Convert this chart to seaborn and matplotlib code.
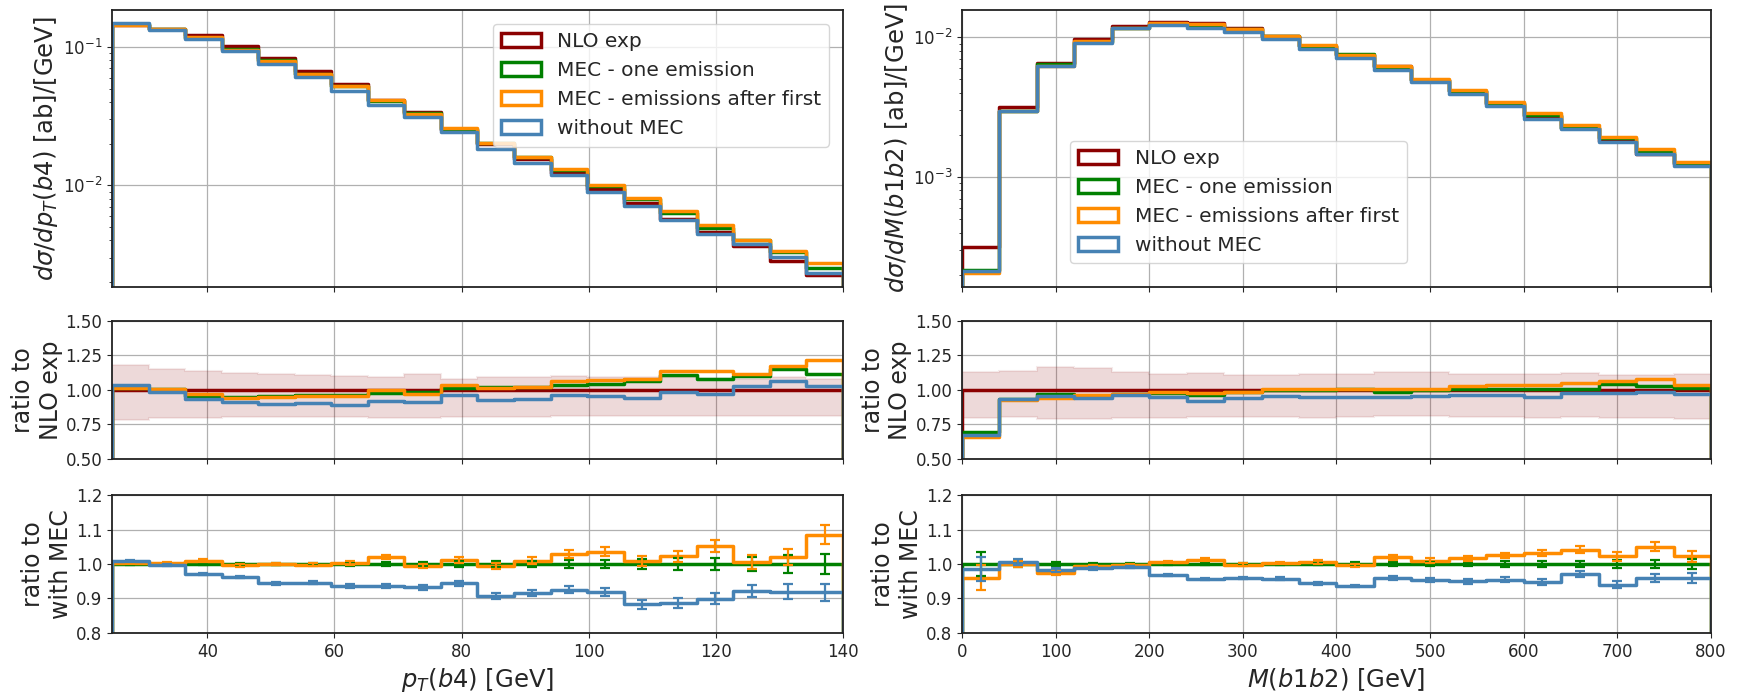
import numpy as np
import matplotlib
matplotlib.use("Agg")
import matplotlib.pyplot as plt
import seaborn as sns
from matplotlib.patches import Patch

# ---------------- data ----------------
pt_edges = np.linspace(25, 140, 21)
m_edges = np.linspace(0, 800, 21)

series_names = ["NLO exp", "MEC - one emission", "MEC - emissions after first", "without MEC"]
series_colors = ["darkred", "green", "darkorange", "steelblue"]

# top-left: d sigma / d pT(b4)
pt_nlo = [0.143, 0.134, 0.1216, 0.1017, 0.0836, 0.0668, 0.0541, 0.0414, 0.0340, 0.0252,
          0.0198, 0.0156, 0.0123, 0.0094, 0.0075, 0.0057, 0.00457, 0.00363, 0.00285, 0.00225]
pt_mec1 = [0.1454, 0.1347, 0.1163, 0.0967, 0.0799, 0.0642, 0.0520, 0.0406, 0.0335, 0.0256,
           0.0203, 0.0159, 0.0128, 0.00981, 0.00797, 0.00634, 0.00495, 0.00400, 0.00328, 0.00252]
pt_mecn = [0.1451, 0.1347, 0.1177, 0.0958, 0.0795, 0.0641, 0.0519, 0.0414, 0.0330, 0.0261,
           0.0201, 0.0160, 0.0131, 0.0101, 0.00809, 0.00648, 0.00520, 0.00405, 0.00334, 0.00273]
pt_nomec = [0.1479, 0.1320, 0.1133, 0.0929, 0.0751, 0.0607, 0.0483, 0.0380, 0.0309, 0.0243,
            0.0184, 0.0146, 0.0118, 0.00897, 0.00708, 0.00561, 0.00444, 0.00374, 0.00303, 0.00232]

# middle-left: ratio to NLO
pt_r_mec1 = [1.017, 1.005, 0.956, 0.951, 0.956, 0.961, 0.961, 0.980, 0.985, 1.015,
             1.024, 1.022, 1.039, 1.044, 1.063, 1.112, 1.083, 1.102, 1.150, 1.119]
pt_r_mecn = [1.015, 1.005, 0.968, 0.942, 0.951, 0.959, 0.959, 1.000, 0.971, 1.034,
             1.017, 1.024, 1.063, 1.075, 1.078, 1.136, 1.138, 1.117, 1.172, 1.214]
pt_r_nomec = [1.034, 0.985, 0.932, 0.913, 0.898, 0.908, 0.893, 0.917, 0.910, 0.966,
              0.927, 0.934, 0.961, 0.954, 0.944, 0.985, 0.971, 1.029, 1.063, 1.029]
pt_band_hi = [1.180, 1.150, 1.136, 1.126, 1.117, 1.107, 1.100, 1.092, 1.117, 1.083,
              1.092, 1.097, 1.100, 1.092, 1.092, 1.092, 1.087, 1.083, 1.092, 1.078]
pt_band_lo = [0.785, 0.795, 0.800, 0.805, 0.805, 0.805, 0.805, 0.800, 0.800, 0.805,
              0.805, 0.805, 0.810, 0.810, 0.810, 0.815, 0.810, 0.810, 0.815, 0.815]

# bottom-left: ratio to with MEC
pt_w_mec1 = [1.0] * 20
pt_w_mecn = [1.004, 1.004, 1.010, 0.996, 1.000, 0.998, 1.003, 1.021, 0.994, 1.012,
             0.994, 1.010, 1.028, 1.035, 1.008, 1.023, 1.052, 1.006, 1.020, 1.085]
pt_w_nomec = [1.010, 0.996, 0.972, 0.961, 0.944, 0.946, 0.936, 0.935, 0.932, 0.944,
              0.907, 0.916, 0.926, 0.918, 0.883, 0.887, 0.899, 0.922, 0.920, 0.918]
pt_e_mec1 = [0.003, 0.003, 0.003, 0.004, 0.004, 0.004, 0.005, 0.006, 0.007, 0.008,
             0.010, 0.010, 0.012, 0.013, 0.014, 0.016, 0.018, 0.020, 0.025, 0.030]
pt_e_mecn = [0.003, 0.003, 0.004, 0.004, 0.004, 0.004, 0.005, 0.006, 0.007, 0.008,
             0.009, 0.010, 0.012, 0.013, 0.014, 0.016, 0.018, 0.020, 0.024, 0.028]
pt_e_nomec = [0.003, 0.003, 0.003, 0.003, 0.004, 0.004, 0.005, 0.006, 0.006, 0.007,
              0.008, 0.009, 0.010, 0.011, 0.013, 0.014, 0.016, 0.018, 0.021, 0.024]

# top-right: d sigma / d M(b1b2)
m_nlo = [3.13e-4, 3.18e-3, 6.56e-3, 9.67e-3, 0.01200, 0.01276, 0.01270, 0.01160, 0.01015, 0.00867,
         0.00746, 0.00618, 0.00498, 0.00409, 0.00334, 0.00275, 0.00224, 0.00181, 0.00147, 0.00124]
m_mec1 = [2.166e-4, 2.964e-3, 6.383e-3, 9.274e-3, 0.011616, 0.012479, 0.012205, 0.011426, 0.010130, 0.008696,
          0.007535, 0.006087, 0.004980, 0.004110, 0.003373, 0.002764, 0.002251, 0.001890, 0.001513, 0.001259]
m_mecn = [2.063e-4, 2.948e-3, 6.180e-3, 9.322e-3, 0.011616, 0.012607, 0.012421, 0.011403, 0.010201, 0.008748,
          0.007505, 0.006205, 0.005030, 0.004200, 0.003460, 0.002857, 0.002359, 0.001933, 0.001592, 0.001285]
m_nomec = [2.113e-4, 2.983e-3, 6.258e-3, 9.109e-3, 0.011592, 0.012148, 0.011709, 0.010962, 0.009693, 0.008210,
           0.007057, 0.005865, 0.004746, 0.003930, 0.003226, 0.002615, 0.002197, 0.001770, 0.001448, 0.001204]

# middle-right: ratio to NLO
m_r_mec1 = [0.692, 0.932, 0.973, 0.959, 0.968, 0.978, 0.961, 0.985, 0.998, 1.003,
            1.010, 0.985, 1.000, 1.005, 1.010, 1.005, 1.005, 1.044, 1.029, 1.015]
m_r_mecn = [0.659, 0.927, 0.942, 0.964, 0.968, 0.988, 0.978, 0.983, 1.005, 1.009,
            1.006, 1.004, 1.010, 1.027, 1.036, 1.039, 1.053, 1.068, 1.083, 1.036]
m_r_nomec = [0.675, 0.938, 0.954, 0.942, 0.966, 0.952, 0.922, 0.945, 0.955, 0.947,
             0.946, 0.949, 0.953, 0.961, 0.966, 0.951, 0.981, 0.978, 0.985, 0.971]
m_band_hi = [1.128, 1.136, 1.165, 1.157, 1.133, 1.118, 1.120, 1.110, 1.105, 1.115,
             1.118, 1.128, 1.128, 1.114, 1.114, 1.114, 1.124, 1.110, 1.110, 1.114]
m_band_lo = [0.800, 0.806, 0.790, 0.790, 0.795, 0.800, 0.802, 0.804, 0.804, 0.800,
             0.803, 0.812, 0.812, 0.805, 0.803, 0.800, 0.803, 0.800, 0.795, 0.790]

# bottom-right: ratio to with MEC
m_w_mec1 = [1.0] * 20
m_w_mecn = [0.960, 1.000, 0.974, 0.994, 0.998, 1.005, 1.012, 0.998, 1.003, 1.006,
            0.996, 1.019, 1.010, 1.016, 1.025, 1.031, 1.041, 1.022, 1.050, 1.022]
m_w_nomec = [0.986, 1.006, 0.982, 0.988, 0.991, 0.967, 0.957, 0.959, 0.957, 0.944,
             0.936, 0.959, 0.953, 0.950, 0.955, 0.948, 0.971, 0.940, 0.959, 0.959]
m_e_mec1 = [0.035, 0.008, 0.005, 0.004, 0.003, 0.003, 0.003, 0.003, 0.004, 0.004,
            0.005, 0.005, 0.006, 0.007, 0.008, 0.009, 0.010, 0.011, 0.012, 0.014]
m_e_mecn = [0.036, 0.008, 0.005, 0.004, 0.003, 0.003, 0.004, 0.004, 0.004, 0.005,
            0.005, 0.006, 0.006, 0.007, 0.008, 0.009, 0.010, 0.012, 0.013, 0.015]
m_e_nomec = [0.035, 0.008, 0.005, 0.004, 0.003, 0.003, 0.003, 0.003, 0.004, 0.004,
             0.004, 0.005, 0.006, 0.007, 0.008, 0.009, 0.010, 0.011, 0.012, 0.014]

# ---------------- style ----------------
sns.set_style("ticks")
plt.rcParams["font.family"] = ["DejaVu Sans"]
plt.rcParams["mathtext.fontset"] = "dejavusans"

TICK_FS = 12
LEG_FS = 14.5
RLAB_FS = 17
TLAB_FS = 17.5
XLAB_FS = 17.5
LW = 2.5

fig = plt.figure(figsize=(17.42, 6.93), dpi=100)

colx = [(0.0643, 0.4196), (0.5522, 0.4300)]
rowy = [(0.5859, 0.3997), (0.3377, 0.1991), (0.0866, 0.1991)]


def step(ax, edges, vals, color, bottom, lw=LW, zorder=2):
    edges = [float(e) for e in edges]
    centers = [0.5 * (a + b) for a, b in zip(edges[:-1], edges[1:])]
    sns.histplot(x=centers, weights=list(vals), bins=edges, element="step", fill=False,
                 color=color, linewidth=lw, ax=ax, legend=False, zorder=zorder)
    ax.vlines([edges[0], edges[-1]], bottom, [vals[0], vals[-1]], colors=color,
              linewidth=lw, zorder=zorder)


def errs(ax, edges, vals, err, color, zorder=3):
    edges = np.asarray(edges)
    centers = 0.5 * (edges[:-1] + edges[1:])
    ax.errorbar(centers, vals, yerr=err, fmt="none", ecolor=color, elinewidth=1.6,
                capsize=3.5, capthick=1.6, zorder=zorder)


def style(ax, xlim):
    ax.set_xlim(*xlim)
    ax.grid(True, color="#b0b0b0", linewidth=0.9)
    ax.set_axisbelow(True)
    ax.tick_params(labelsize=TICK_FS, direction="out")
    for s in ax.spines.values():
        s.set_visible(True)
        s.set_color("#222222")
        s.set_linewidth(1.3)
    ax.set_ylabel("")
    ax.set_xlabel("")


panels = [
    dict(edges=pt_edges, xlim=(25, 140), xticks=[40, 60, 80, 100, 120, 140],
         top=[pt_nlo, pt_mec1, pt_mecn, pt_nomec], ylim=(0.00184, 0.185),
         ratio=[pt_r_mec1, pt_r_mecn, pt_r_nomec], band=(pt_band_lo, pt_band_hi),
         wm=[pt_w_mec1, pt_w_mecn, pt_w_nomec], we=[pt_e_mec1, pt_e_mecn, pt_e_nomec],
         tlabel=r"$d\sigma/dp_T(b4)$ [ab]/[GeV]", xlabel=r"$p_T(b4)$ [GeV]",
         leg=dict(loc="upper right", bbox_to_anchor=(0.995, 0.985))),
    dict(edges=m_edges, xlim=(0, 800), xticks=[0, 100, 200, 300, 400, 500, 600, 700, 800],
         top=[m_nlo, m_mec1, m_mecn, m_nomec], ylim=(1.63e-4, 0.01567),
         ratio=[m_r_mec1, m_r_mecn, m_r_nomec], band=(m_band_lo, m_band_hi),
         wm=[m_w_mec1, m_w_mecn, m_w_nomec], we=[m_e_mec1, m_e_mecn, m_e_nomec],
         tlabel=r"$d\sigma/dM(b1b2)$ [ab]/[GeV]", xlabel=r"$M(b1b2)$ [GeV]",
         leg=dict(loc="lower left", bbox_to_anchor=(0.131, 0.05))),
]

for ci, p in enumerate(panels):
    x0, w = colx[ci]
    axT = fig.add_axes([x0, rowy[0][0], w, rowy[0][1]])
    axM = fig.add_axes([x0, rowy[1][0], w, rowy[1][1]])
    axB = fig.add_axes([x0, rowy[2][0], w, rowy[2][1]])
    edges = p["edges"]

    # top
    axT.set_yscale("log")
    for vals, c in zip(p["top"], series_colors):
        step(axT, edges, vals, c, bottom=p["ylim"][0] * 0.5)
    style(axT, p["xlim"])
    axT.set_ylim(*p["ylim"])
    axT.set_xticks(p["xticks"])
    axT.tick_params(labelbottom=False)
    axT.set_ylabel(p["tlabel"], fontsize=TLAB_FS, labelpad=2)
    handles = [Patch(facecolor="none", edgecolor=c, linewidth=LW, label=n)
               for n, c in zip(series_names, series_colors)]
    axT.legend(handles=handles, fontsize=LEG_FS, framealpha=0.8, **p["leg"])

    # middle
    axM.stairs(p["band"][1], edges, baseline=p["band"][0], fill=True,
               color="darkred", alpha=0.15, linewidth=0, zorder=1)
    axM.stairs(p["band"][1], edges, baseline=None, color="darkred", alpha=0.08,
               linewidth=1.5, zorder=1)
    axM.stairs(p["band"][0], edges, baseline=None, color="darkred", alpha=0.08,
               linewidth=1.5, zorder=1)
    step(axM, edges, [1.0] * 20, series_colors[0], bottom=0.0)
    for vals, c in zip(p["ratio"], series_colors[1:]):
        step(axM, edges, vals, c, bottom=0.0)
    style(axM, p["xlim"])
    axM.set_ylim(0.5, 1.5)
    axM.set_yticks([0.5, 0.75, 1.0, 1.25, 1.5])
    axM.set_yticklabels(["0.50", "0.75", "1.00", "1.25", "1.50"])
    axM.set_xticks(p["xticks"])
    axM.tick_params(labelbottom=False)
    axM.set_ylabel("ratio to\nNLO exp", fontsize=RLAB_FS, labelpad=2)

    # bottom
    for vals, err, c in zip(p["wm"], p["we"], series_colors[1:]):
        step(axB, edges, vals, c, bottom=0.0)
        errs(axB, edges, vals, err, c)
    style(axB, p["xlim"])
    axB.set_ylim(0.8, 1.2)
    axB.set_yticks([0.8, 0.9, 1.0, 1.1, 1.2])
    axB.set_yticklabels(["0.8", "0.9", "1.0", "1.1", "1.2"])
    axB.set_xticks(p["xticks"])
    axB.set_ylabel("ratio to\nwith MEC", fontsize=RLAB_FS, labelpad=2)
    axB.set_xlabel(p["xlabel"], fontsize=XLAB_FS)

fig.savefig("out.png", dpi=100)
